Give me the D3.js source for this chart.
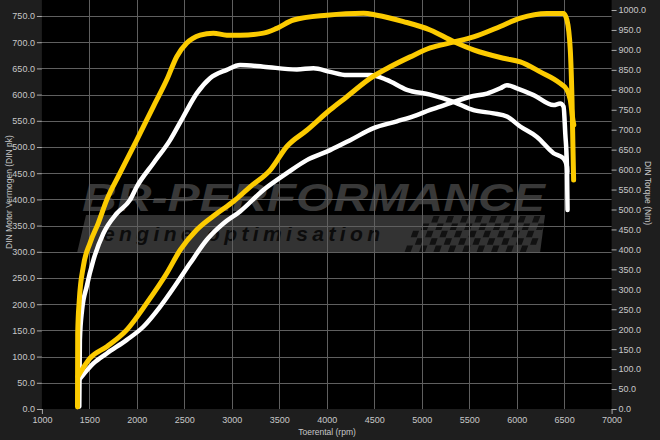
<!DOCTYPE html>
<html><head><meta charset="utf-8">
<script src="https://cdn.jsdelivr.net/npm/d3@7"></script>
<style>
html,body{margin:0;padding:0;background:#1e1e1e;}
svg{display:block;font-family:"Liberation Sans",Arial,sans-serif;}
</style></head>
<body>
<svg id="c" width="660" height="440"></svg>
<script>
// ---- data (rpm, value) ----
const xTicks = [1000,1500,2000,2500,3000,3500,4000,4500,5000,5500,6000,6500,7000];
const powerTicks = d3.range(0, 751, 50);
const torqueTicks = d3.range(0, 1001, 50);

// tuned (yellow) torque, Nm
const tunedTorque = [
 [1375,5],[1377,190],[1394,273],[1436,357],[1507,416],[1594,466],[1683,524],[1822,591],
 [1999,674],[2174,758],[2315,825],[2420,883],[2526,917],[2666,937],[2806,942],[2947,937],
 [3087,937],[3333,942],[3474,954],[3649,975],[4001,987],[4387,992],[4528,987],[4808,971],
 [5089,950],[5335,921],[5546,900],[5862,879],[6038,870],[6248,845],[6459,816],[6530,800],
 [6565,774],[6593,724],[6602,712]
];
// tuned (yellow) power, pk
const tunedPower = [
 [1380,62],[1507,97],[1683,119],[1894,151],[2104,202],[2315,259],[2455,303],[2631,342],
 [2842,373],[3017,396],[3193,424],[3404,456],[3580,501],[3790,532],[4036,571],[4212,596],
 [4457,631],[4668,653],[4879,672],[5089,689],[5335,700],[5546,710],[5827,730],[6038,746],
 [6319,755],[6494,755],[6530,742],[6565,685],[6583,590],[6600,437]
];
// stock (white) torque, Nm
const stockTorque = [
 [1394,6],[1400,173],[1423,248],[1472,307],[1542,373],[1647,440],[1788,490],[1928,524],
 [1999,557],[2174,616],[2350,674],[2490,733],[2631,791],[2771,829],[2947,850],[3087,862],
 [3333,858],[3685,851],[3860,854],[4036,845],[4212,837],[4457,837],[4633,825],[4844,800],
 [5089,788],[5335,770],[5546,749],[5757,741],[5898,733],[6038,708],[6214,682],[6389,641],
 [6494,628],[6530,607],[6533,594]
];
// stock (white) power, pk
const stockPower = [
 [1402,58],[1542,87],[1683,106],[1894,132],[2068,157],[2244,195],[2420,240],[2561,278],
 [2737,323],[2911,354],[3087,377],[3333,418],[3580,450],[3790,475],[4036,494],[4247,513],
 [4492,536],[4739,549],[4949,561],[5089,571],[5195,577],[5335,586],[5511,596],[5687,602],
 [5827,612],[5898,618],[6003,612],[6179,599],[6389,580],[6459,583],[6494,577],[6512,526],
 [6530,462],[6536,380]
];

const svg = d3.select("#c");
const L = 41.9, R = 611.6, B = 409;
const x = d3.scaleLinear([1000,7000],[L,R]);
const yL = d3.scaleLinear([0,750],[B,16]);
const yR = d3.scaleLinear([0,1000],[B,10]);

// plot background
svg.append("rect").attr("x",L).attr("y",0).attr("width",R-L).attr("height",B).attr("fill","#000");

// watermark
const wm = svg.append("g");
wm.append("path").attr("d","M86,215 L545,215 L540,253 L77,253 Z").attr("fill","#333");
const ck = wm.append("g");
for(let i=0;i<18;i++){ for(let j=0;j<5;j++){ if((i+j)%2===0){
  const cx = 420+i*7.2 - j*3, cy = 216+j*7.4;
  if(cx > 400+ (4-j)*6)
  ck.append("rect").attr("x",cx).attr("y",cy).attr("width",6).attr("height",6.5)
    .attr("transform",`skewX(-20) translate(${cy*0.36},0)`).attr("fill","#111");
}}}
wm.append("text").attr("x",82).attr("y",211).attr("textLength",463).attr("lengthAdjust","spacingAndGlyphs")
  .attr("font-size",38).attr("font-weight","bold").attr("font-style","italic").attr("fill","#383838")
  .text("BR-PERFORMANCE");
wm.append("text").attr("x",103).attr("y",241).attr("textLength",277).attr("lengthAdjust","spacing")
  .attr("font-size",21).attr("font-weight","bold").attr("font-style","italic").attr("fill","#0c0c0c")
  .text("engine optimisation");

// grid
const grid = svg.append("g").attr("stroke","#5f5f5f").attr("stroke-width",1);
grid.selectAll(".gh").data(powerTicks.filter(d=>d>0)).join("line")
  .attr("x1",L).attr("x2",R).attr("y1",d=>Math.round(yL(d))+0.5).attr("y2",d=>Math.round(yL(d))+0.5);
grid.selectAll(".gv").data(xTicks.slice(1,-1)).join("line")
  .attr("y1",0).attr("y2",B).attr("x1",d=>Math.round(x(d))+0.5).attr("x2",d=>Math.round(x(d))+0.5);

// axes
const fmt = d3.format(".1f");
function style(g){
  g.select(".domain").remove();
  g.selectAll(".tick line").attr("stroke","#aaa");
  g.selectAll(".tick text").attr("fill","#c8c8c8").attr("font-size",9);
}
svg.append("g").attr("transform",`translate(${L},0)`)
  .call(d3.axisLeft(yL).tickValues(powerTicks).tickFormat(fmt).tickSize(5).tickPadding(2)).call(style);
svg.append("g").attr("transform",`translate(${R},0)`)
  .call(d3.axisRight(yR).tickValues(torqueTicks).tickFormat(fmt).tickSize(5).tickPadding(2)).call(style);
const xa = svg.append("g").attr("transform",`translate(0,${B})`)
  .call(d3.axisBottom(x).tickValues(xTicks).tickFormat(d3.format("d")).tickSize(5).tickPadding(3)).call(style);
xa.selectAll(".tick line").attr("opacity",d=>(d===1000||d===7000)?1:0);

// titles
svg.append("text").attr("transform","translate(12,192) rotate(-90)").attr("text-anchor","middle")
  .attr("font-size",8.5).attr("fill","#c8c8c8").text("DIN Motor Vermogen (DIN pk)");
svg.append("text").attr("transform","translate(645,193) rotate(90)").attr("text-anchor","middle")
  .attr("font-size",8.5).attr("fill","#c8c8c8").text("DIN Torque (Nm)");
svg.append("text").attr("x",327).attr("y",435).attr("text-anchor","middle")
  .attr("font-size",8.5).attr("fill","#c8c8c8").text("Toerental (rpm)");

// curves
const curve = d3.curveMonotoneX;
const lineL = d3.line().x(d=>x(d[0])).y(d=>yL(d[1])).curve(curve);
const lineR = d3.line().x(d=>x(d[0])).y(d=>yR(d[1])).curve(curve);
const curves = svg.append("g").attr("fill","none").attr("stroke-linecap","round").attr("stroke-linejoin","round");
curves.append("path").attr("d",lineR(stockTorque)).attr("stroke","#ffffff").attr("stroke-width",4.5);
curves.append("path").attr("d",lineL(stockPower)).attr("stroke","#ffffff").attr("stroke-width",4.5);
curves.append("path").attr("d",lineR(tunedTorque)).attr("stroke","#fccb00").attr("stroke-width",5);
curves.append("path").attr("d",lineL(tunedPower)).attr("stroke","#fccb00").attr("stroke-width",5);
</script>
</body></html>
